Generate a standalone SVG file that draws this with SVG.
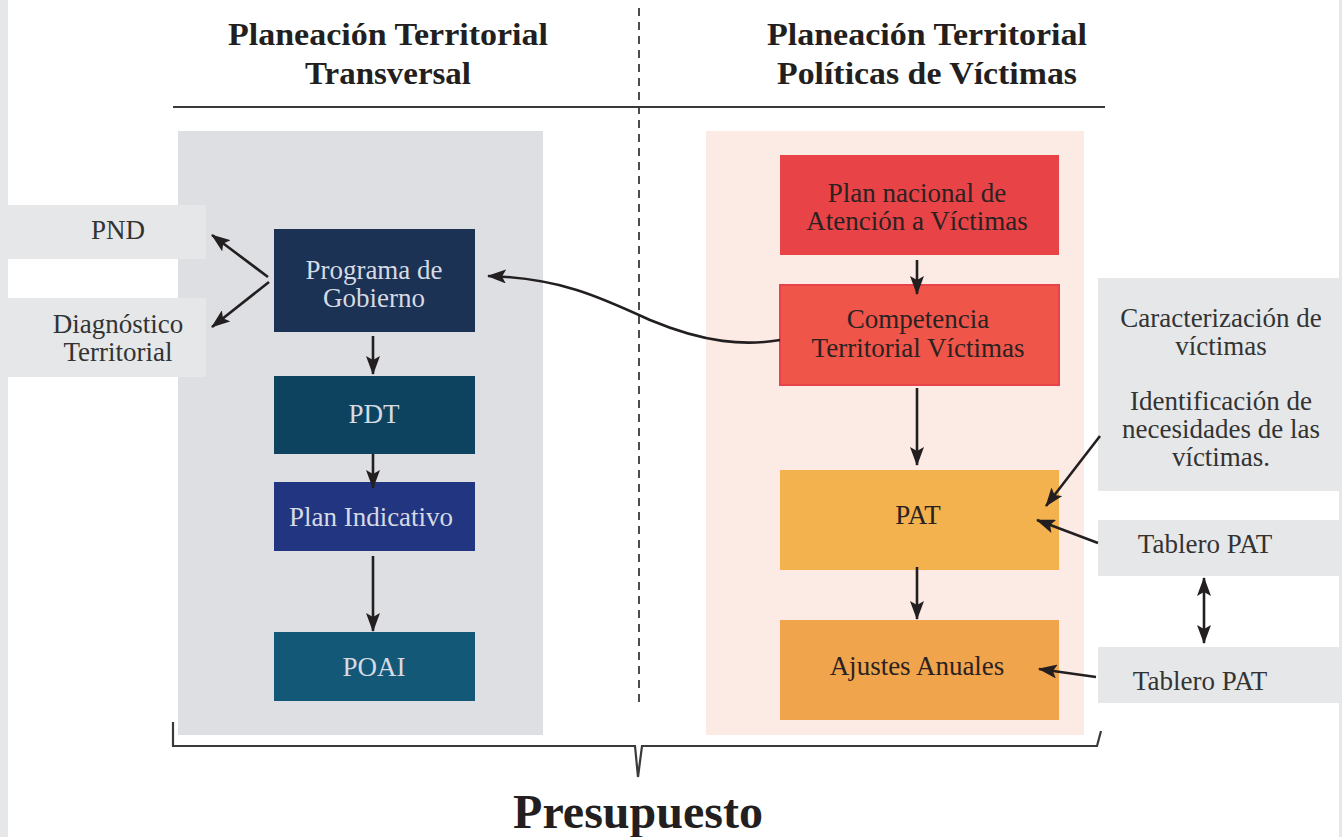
<svg xmlns="http://www.w3.org/2000/svg" width="1342" height="837" viewBox="0 0 1342 837">
<style>
.t{font-family:"Liberation Serif","Times New Roman",serif;font-size:27px;text-anchor:middle}
.dark{fill:#333333}
.light{fill:#d6dae3}
.red{fill:#2a2222}
.title{font-family:"Liberation Serif","Times New Roman",serif;font-size:32px;font-weight:bold;fill:#231f20;text-anchor:middle}
.side{fill:#e6e7e9}
.arr{fill:none;stroke:#231f20;stroke-width:2.6;marker-end:url(#ah)}
</style>
<defs>
<marker id="ah" markerUnits="userSpaceOnUse" markerWidth="20" markerHeight="14" refX="18" refY="7" orient="auto-start-reverse" viewBox="0 0 20 14">
<path d="M0,0 L19,7 L0,14 L4,7 z" fill="#231f20"/>
</marker>
</defs>
<rect width="1342" height="837" fill="#ffffff"/>
<rect x="0" y="0" width="8" height="837" class="side"/>
<rect x="1339" y="0" width="3" height="837" class="side"/>

<g id="headers">
<text class="title" x="388" y="45" textLength="320" lengthAdjust="spacingAndGlyphs">Planeación Territorial</text>
<text class="title" x="388" y="84" textLength="166" lengthAdjust="spacingAndGlyphs">Transversal</text>
<text class="title" x="927" y="45" textLength="320" lengthAdjust="spacingAndGlyphs">Planeación Territorial</text>
<text class="title" x="927" y="84" textLength="300" lengthAdjust="spacingAndGlyphs">Políticas de Víctimas</text>
<line x1="173" y1="107" x2="1105" y2="107" stroke="#3a3a3a" stroke-width="2.2"/>
<line x1="639" y1="8" x2="639" y2="702" stroke="#3a3a3a" stroke-width="1.8" stroke-dasharray="8,6"/>
</g>

<g id="panels">
<rect x="178" y="131" width="365" height="604" fill="#dedfe3"/>
<rect x="706" y="131" width="378" height="604" fill="#fcebe4"/>
</g>

<g id="pnd">
<rect x="8" y="205" width="198" height="54" class="side"/>
<text class="t dark" x="118" y="239">PND</text>
</g>
<g id="diagnostico">
<rect x="8" y="298" width="198" height="79" class="side"/>
<text class="t dark" x="118" y="333">Diagnóstico</text>
<text class="t dark" x="118" y="361">Territorial</text>
</g>
<g id="programa">
<rect x="274" y="229" width="201" height="103" fill="#1b3254"/>
<text class="t light" x="374" y="279">Programa de</text>
<text class="t light" x="374" y="307">Gobierno</text>
</g>
<g id="pdt">
<rect x="274" y="376" width="201" height="78" fill="#0e4360"/>
<text class="t light" x="374" y="423">PDT</text>
</g>
<g id="plan-indicativo">
<rect x="274" y="482" width="201" height="69" fill="#223580"/>
<text class="t light" x="371" y="526">Plan Indicativo</text>
</g>
<g id="poai">
<rect x="274" y="632" width="201" height="69" fill="#135877"/>
<text class="t light" x="374" y="676">POAI</text>
</g>

<g id="plan-nacional">
<rect x="780" y="155" width="279" height="100" fill="#e84346"/>
<text class="t red" x="917" y="202">Plan nacional de</text>
<text class="t red" x="917" y="230">Atención a Víctimas</text>
</g>
<g id="competencia">
<rect x="780" y="285" width="279" height="100" fill="#ef5549" stroke="#e8434a" stroke-width="2"/>
<text class="t red" x="918" y="328">Competencia</text>
<text class="t red" x="918" y="357">Territorial Víctimas</text>
</g>
<g id="pat">
<rect x="780" y="470" width="279" height="100" fill="#f3b24d"/>
<text class="t red" x="918" y="524">PAT</text>
</g>
<g id="ajustes">
<rect x="780" y="620" width="279" height="100" fill="#f0a44b"/>
<text class="t red" x="917" y="675">Ajustes Anuales</text>
</g>

<g id="caracterizacion">
<rect x="1098" y="278" width="241" height="213" class="side"/>
<text class="t dark" x="1221" y="327">Caracterización de</text>
<text class="t dark" x="1221" y="355">víctimas</text>
<text class="t dark" x="1221" y="410">Identificación de</text>
<text class="t dark" x="1221" y="438">necesidades de las</text>
<text class="t dark" x="1221" y="466">víctimas.</text>
</g>
<g id="tablero1">
<rect x="1098" y="520" width="241" height="56" class="side"/>
<text class="t dark" x="1205" y="553">Tablero PAT</text>
</g>
<g id="tablero2">
<rect x="1098" y="647" width="241" height="56" class="side"/>
<text class="t dark" x="1200" y="690">Tablero PAT</text>
</g>

<g id="connectors">
<path class="arr" d="M268,277 L212,235"/>
<path class="arr" d="M269,282 L212,327"/>
<path class="arr" d="M373,336 L373,374"/>
<path class="arr" d="M373,454 L373,488"/>
<path class="arr" d="M373,556 L373,631"/>
<path class="arr" d="M780,340 C745,346 705,343 650,320 C600,297 560,278 488,276"/>
<path class="arr" d="M917,260 L917,294"/>
<path class="arr" d="M917,388 L917,465"/>
<path class="arr" d="M917,567 L917,619"/>
<path class="arr" d="M1100,436 L1046,506"/>
<path class="arr" d="M1098,543 L1037,520"/>
<path class="arr" d="M1204,578 L1204,643" style="marker-start:url(#ah)"/>
<path class="arr" d="M1096,677 L1039,669"/>
</g>

<g id="brace">
<path d="M173,722 L173,746 L635,746 L638,777 L642,746 L1097,746 L1101,731" fill="none" stroke="#3a3a3a" stroke-width="2.2"/>
<text x="638" y="828" font-family="'Liberation Serif','Times New Roman',serif" font-size="48" font-weight="bold" fill="#231f20" text-anchor="middle">Presupuesto</text>
</g>
</svg>
